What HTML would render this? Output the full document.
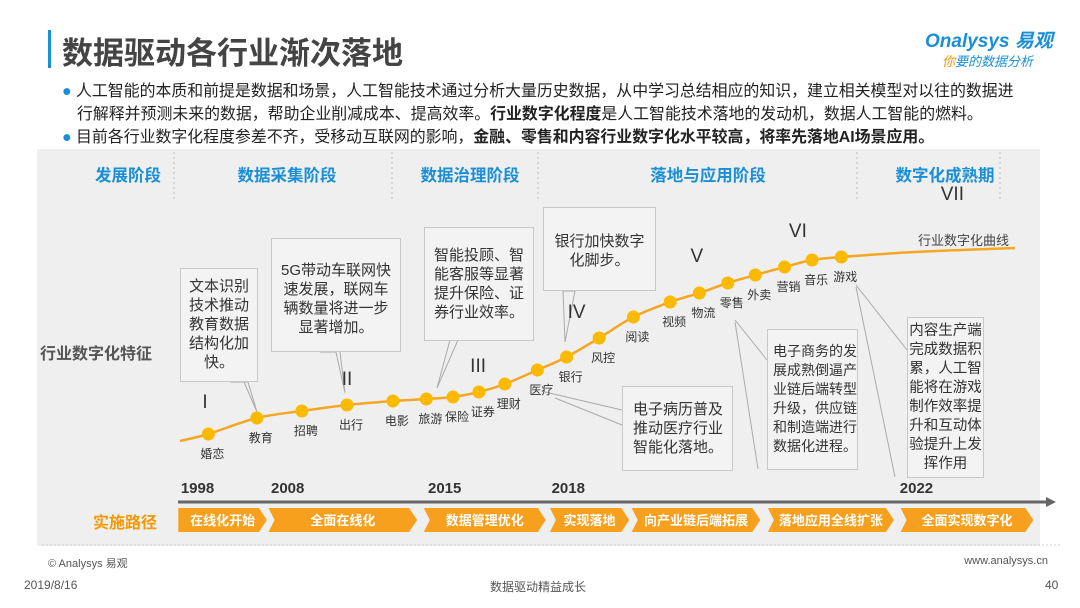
<!DOCTYPE html>
<html><head><meta charset="utf-8"><style>
body{margin:0;width:1080px;height:608px;overflow:hidden;background:#fff;font-family:"Liberation Sans","Noto Sans CJK SC",sans-serif;position:relative;color:#333}
.a{position:absolute;white-space:nowrap}
.box{position:absolute;border:1px solid #c8c8c8;background:#f3f3f3;font-size:15px;line-height:19px;color:#333;text-align:center;box-sizing:border-box;white-space:nowrap;overflow:visible}
.stage{position:absolute;top:162px;font-size:16.5px;font-weight:bold;color:#1a8fd6;transform:translateX(-50%)}
.yr{position:absolute;top:480px;font-size:15px;font-weight:bold;color:#333}
.b{font-size:15.9px;color:#222}
</style></head><body>
<div class="a" style="left:48px;top:30px;width:3px;height:38px;background:#1a8fd6"></div>
<div class="a" style="left:62px;top:28px;font-size:31px;font-weight:bold;color:#444">数据驱动各行业渐次落地</div>
<div class="a" style="left:925px;top:26px;font-size:19px;font-weight:bold;color:#1a8fd6;font-style:italic">Onalysys 易观</div>
<div class="a" style="left:942px;top:51px;font-size:13px;color:#1a8fd6;font-style:italic"><span style="color:#f39800">你</span>要的数据分析</div>
<div class="a b" style="left:62px;top:78px"><span style="color:#1a8fd6">●</span> 人工智能的本质和前提是数据和场景，人工智能技术通过分析大量历史数据，从中学习总结相应的知识，建立相关模型对以往的数据进</div>
<div class="a b" style="left:77px;top:101px">行解释并预测未来的数据，帮助企业削减成本、提高效率。<b>行业数字化程度</b>是人工智能技术落地的发动机，数据人工智能的燃料。</div>
<div class="a b" style="left:62px;top:124px"><span style="color:#1a8fd6">●</span> 目前各行业数字化程度参差不齐，受移动互联网的影响，<b>金融、零售和内容行业数字化水平较高，将率先落地AI场景应用。</b></div>
<div class="a" style="left:37px;top:149px;width:1003px;height:397px;background:#efefef"></div>
<div class="stage" style="left:128px">发展阶段</div>
<div class="stage" style="left:287px">数据采集阶段</div>
<div class="stage" style="left:470px">数据治理阶段</div>
<div class="stage" style="left:708px">落地与应用阶段</div>
<div class="stage" style="left:945px">数字化成熟期</div>
<div class="a" style="left:40px;top:340px;font-size:16px;font-weight:bold;color:#555">行业数字化特征</div>
<div class="a" style="left:918px;top:230px;font-size:13px;color:#444">行业数字化曲线</div>
<svg class="a" style="left:0;top:0" width="1080" height="608">
<g stroke="#bbb" stroke-dasharray="2,3">
<line x1="174" y1="152" x2="174" y2="200"/><line x1="392" y1="152" x2="392" y2="200"/><line x1="538" y1="152" x2="538" y2="200"/><line x1="857" y1="152" x2="857" y2="200"/><line x1="1000" y1="152" x2="1000" y2="200"/>
</g>
<g stroke="#aaa" fill="none">
<polyline points="230,382 248,382 257,412 244,382"/>
<polyline points="320,352 336,352 345,393 340,352"/>
<polyline points="445,340 458,340 437,388 450,340"/>
<polyline points="563,291 575,291 565,342 563,291"/>
<polyline points="555,398 622,425"/><polyline points="545,392 622,410"/>
<polyline points="735,320 767,360"/><polyline points="735,322 758,469"/>
<polyline points="856,285 907,350"/><polyline points="856,287 895,477"/>
</g>
<g id="curve"></g>
<line x1="178" y1="502" x2="1048" y2="502" stroke="#666" stroke-width="3"/>
<polygon points="1046,497 1056,502 1046,507" fill="#666"/>
<line x1="42" y1="545" x2="1062" y2="545" stroke="#ccc" stroke-dasharray="2,2"/>
<g id="chev"></g>
</svg>
<div class="box" style="left:180px;top:268px;width:78px;height:114px;padding-top:8px">文本识别<br>技术推动<br>教育数据<br>结构化加<br>快。</div>
<div class="box" style="left:271px;top:238px;width:130px;height:114px;padding-top:22px">5G带动车联网快<br>速发展，联网车<br>辆数量将进一步<br>显著增加。</div>
<div class="box" style="left:424px;top:227px;width:110px;height:114px;padding:18px 0 0 9px;text-align:left">智能投顾、智<br>能客服等显著<br>提升保险、证<br>券行业效率。</div>
<div class="box" style="left:543px;top:207px;width:113px;height:84px;padding-top:24px">银行加快数字<br>化脚步。</div>
<div class="box" style="left:622px;top:386px;width:111px;height:85px;padding:13px 0 0 10px;text-align:left">电子病历普及<br>推动医疗行业<br>智能化落地。</div>
<div class="box" style="left:767px;top:329px;width:91px;height:141px;padding:12px 0 0 5px;text-align:left;font-size:14px">电子商务的发<br>展成熟倒逼产<br>业链后端转型<br>升级，供应链<br>和制造端进行<br>数据化进程。</div>
<div class="box" style="left:907px;top:317px;width:77px;height:161px;padding-top:4px;font-size:14.5px">内容生产端<br>完成数据积<br>累，人工智<br>能将在游戏<br>制作效率提<br>升和互动体<br>验提升上发<br>挥作用</div>
<div class="a" style="left:93px;top:509px;font-size:16px;font-weight:bold;color:#f39800">实施路径</div>
<div class="a" style="left:48px;top:555px;font-size:11px;color:#555">© Analysys 易观</div>
<div class="a" style="right:32px;top:555px;font-size:11px;color:#555">www.analysys.cn</div>
<div class="a" style="left:24px;top:578px;font-size:12px;color:#555">2019/8/16</div>
<div class="a" style="left:490px;top:578px;font-size:12px;color:#555">数据驱动精益成长</div>
<div class="a" style="left:1045px;top:578px;font-size:12px;color:#555">40</div>
<script>
const industries=["婚恋","教育","招聘","出行","电影","旅游","保险","证券","理财","医疗","银行","风控","阅读","视频","物流","零售","外卖","营销","音乐","游戏"];
const progress=[3.4,9.2,14.6,20,25.5,29.5,32.7,35.8,38.9,42.8,46.3,50.2,54.3,58.7,62.2,65.6,68.9,72.4,75.7,79.2];
const digitalLevel=[8,16,19.5,22.5,24.5,25.5,26.5,29,33,40,46.5,56,66.5,74,78.5,83.5,87.5,91.5,95,96.5];
const curveStart=[0,4.5];const curveEnd=[100,101];
const romans=["I","II","III","IV","V","VI","VII"];
const romanProgress=[3,20,35.7,47.5,61.9,74,92.5];
const romanLevel=[21,32.5,39,66,94,106.5,125];
const years=["1998","2008","2015","2018","2022"];
const yearProgress=[0.1,10.9,29.7,44.5,86.2];
const phases=["在线化开始","全面在线化","数据管理优化","实现落地","向产业链后端拓展","落地应用全线扩张","全面实现数字化"];
const phaseStart=[-0.2,10.6,29.2,44.3,54.1,70.4,86.3];
const phaseEnd=[10.4,28.4,43.8,53.8,69.5,85.5,102.2];
const X=t=>180+t*8.35, Y=v=>450-v*2;
const NS="http://www.w3.org/2000/svg";
const g=document.getElementById('curve');
let pts=[[X(curveStart[0]),Y(curveStart[1])]];
progress.forEach((p,i)=>pts.push([X(p),Y(digitalLevel[i])]));
pts.push([X(88),Y(99)]);pts.push([X(curveEnd[0]),Y(curveEnd[1])]);
let d="M"+pts[0];
for(let i=1;i<pts.length;i++){const p0=pts[i-2]||pts[i-1],p1=pts[i-1],p2=pts[i],p3=pts[i+1]||p2;
d+=` C${p1[0]+(p2[0]-p0[0])/6},${p1[1]+(p2[1]-p0[1])/6} ${p2[0]-(p3[0]-p1[0])/6},${p2[1]-(p3[1]-p1[1])/6} ${p2[0]},${p2[1]}`;}
const path=document.createElementNS(NS,'path');


path.setAttribute('d',d);path.setAttribute('fill','none');path.setAttribute('stroke','#f5a623');path.setAttribute('stroke-width','2.5');
g.appendChild(path);
industries.forEach((n,i)=>{
const c=document.createElementNS(NS,'circle');


c.setAttribute('cx',X(progress[i]));c.setAttribute('cy',Y(digitalLevel[i]));c.setAttribute('r',6.5);c.setAttribute('fill','#fbb900');
g.appendChild(c);
const t=document.createElementNS(NS,'text');


t.setAttribute('x',X(progress[i])+4);t.setAttribute('y',Y(digitalLevel[i])+24);t.setAttribute('text-anchor','middle');
t.setAttribute('font-size','12');t.setAttribute('fill','#333');t.textContent=n;g.appendChild(t);});
romans.forEach((r,i)=>{const t=document.createElementNS(NS,'text');


t.setAttribute('x',X(romanProgress[i]));t.setAttribute('y',Y(romanLevel[i]));t.setAttribute('text-anchor','middle');
t.setAttribute('font-size','19');t.setAttribute('fill','#333');t.textContent=r;g.appendChild(t);});
years.forEach((y,i)=>{const e=document.createElement('div');


e.className='yr';e.style.left=X(yearProgress[i])+'px';e.textContent=y;document.body.appendChild(e);});
const ch=document.getElementById('chev');
phases.forEach((p,i)=>{const x0=X(phaseStart[i]),x1=X(phaseEnd[i]);
const pg=document.createElementNS(NS,'polygon');


pg.setAttribute('points',`${x0},508 ${x1-8},508 ${x1},520 ${x1-8},532 ${x0},532 ${i?x0+6:x0},520`);
pg.setAttribute('fill','#f7a01e');ch.appendChild(pg);
const t=document.createElementNS(NS,'text');


t.setAttribute('x',(x0+x1)/2);t.setAttribute('y',525);t.setAttribute('text-anchor','middle');
t.setAttribute('font-size','13');t.setAttribute('fill','#fff');t.setAttribute('font-weight','bold');t.textContent=p;ch.appendChild(t);});
</script>
</body></html>
